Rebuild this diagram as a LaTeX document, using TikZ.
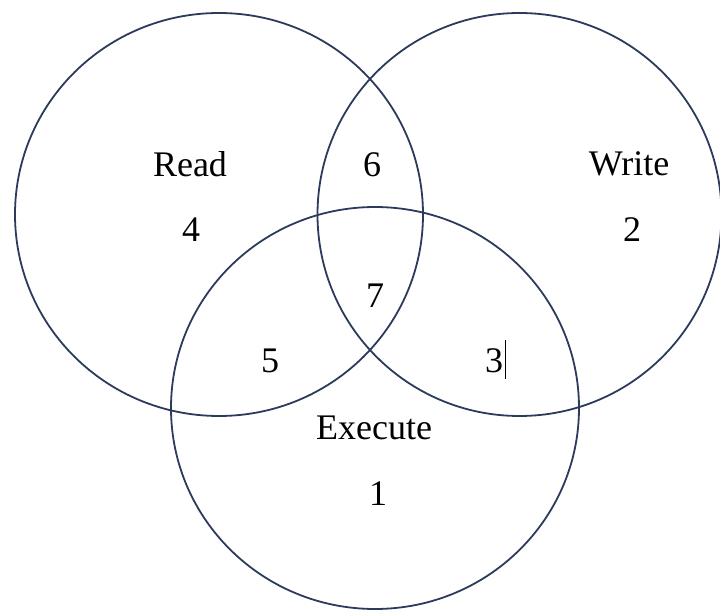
\documentclass[tikz,border=0pt]{standalone}
\usepackage{fontspec}
\setmainfont{Liberation Serif}
\usepackage{xcolor}
\usepackage{tkz-euclide}
\definecolor{setline}{RGB}{44,58,92}
\tikzset{setring/.style = {draw = setline, line width = 1.8pt},
	settext/.style = {inner sep = 0pt, font = \fontsize{36}{42}\selectfont},
	cursor/.style = {draw = black, line width = 0.9pt}}

\begin{document}
\begin{tikzpicture}[x = 1pt, y = -1pt]
	    \useasboundingbox (0,0) rectangle (720,612);
	    \tkzDefPoint(219,214.5){R}
	    \tkzDefPoint(519.5,214.5){W}
	    \tkzDefPoint(375,408){E}
	    \draw[setring] (R) ellipse [x radius = 204, y radius = 201.5];
	    \draw[setring] (W) ellipse [x radius = 202, y radius = 201.5];
	    \draw[setring] (E) ellipse [x radius = 204, y radius = 201];
	    % set names
	    \node[settext] (read) at (190,164) {Read};
	    \node[settext] (write) at (629,164) {Write};
	    \node[settext] (execute) at (374,428) {Execute};
	    % region counts
	    \node[settext] (four) at (191,230) {4};
	    \node[settext] (two) at (632,230) {2};
	    \node[settext] (six) at (372,165) {6};
	    \node[settext] (seven) at (375,296) {7};
	    \node[settext] (five) at (270,361) {5};
	    \node[settext] (three) at (494,361) {3};
	    \node[settext] (one) at (378,494) {1};
	    \draw[cursor] ([xshift=2pt,yshift=9pt]three.north east) -- ([xshift=2pt,yshift=-6pt]three.south east);
	\end{tikzpicture}
\end{document}
